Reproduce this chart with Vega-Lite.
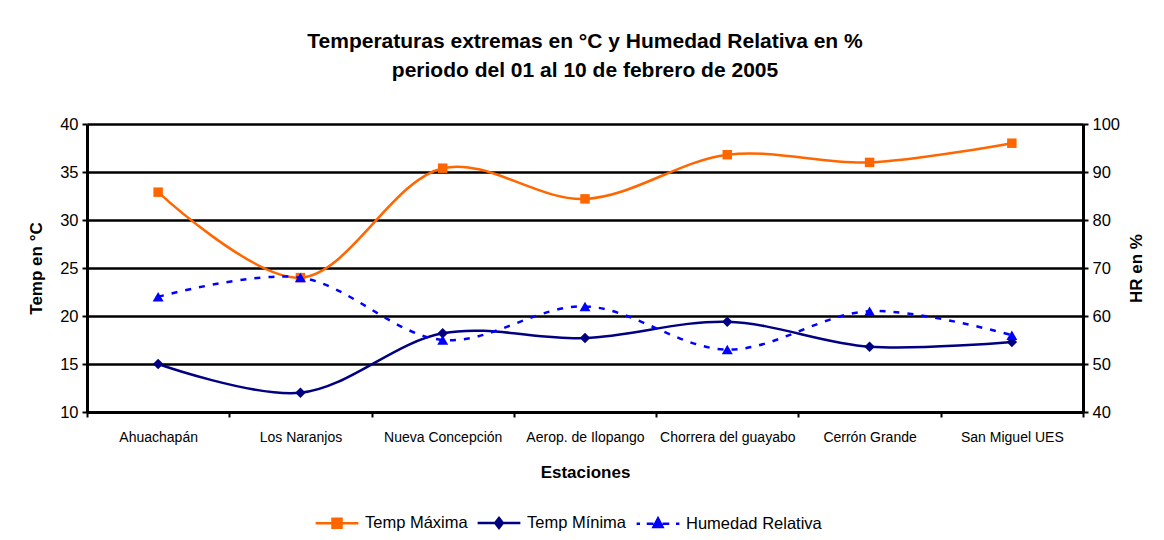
{
  "$schema": "https://vega.github.io/schema/vega-lite/v6.json",
  "autosize": {"type": "none"},
  "padding": {"left": 87, "top": 124, "right": 81, "bottom": 128},
  "width": 996,
  "height": 288,
  "background": "white",
  "title": {
    "text": ["Temperaturas extremas en °C  y Humedad Relativa en %", "periodo del 01 al 10 de febrero de 2005"],
    "font": "Liberation Sans",
    "fontSize": 21,
    "fontWeight": "bold",
    "color": "black",
    "anchor": "middle",
    "lineHeight": 29,
    "offset": 35
  },
  "config": {
    "font": "Liberation Sans",
    "view": {"stroke": null},
    "axis": {
      "labelFont": "Liberation Sans",
      "labelColor": "black",
      "titleColor": "black",
      "titleFont": "Liberation Sans",
      "domainColor": "black",
      "tickColor": "black",
      "gridColor": "black"
    }
  },
  "data": {
    "values": [
      {"estacion": "Ahuachapán", "serie": "Temp Máxima", "valor": 32.9},
      {"estacion": "Los Naranjos", "serie": "Temp Máxima", "valor": 24.0},
      {"estacion": "Nueva Concepción", "serie": "Temp Máxima", "valor": 35.4},
      {"estacion": "Aerop. de Ilopango", "serie": "Temp Máxima", "valor": 32.2},
      {"estacion": "Chorrera del guayabo", "serie": "Temp Máxima", "valor": 36.8},
      {"estacion": "Cerrón Grande", "serie": "Temp Máxima", "valor": 36.0},
      {"estacion": "San Miguel UES", "serie": "Temp Máxima", "valor": 38.0},
      {"estacion": "Ahuachapán", "serie": "Temp Mínima", "valor": 15.0},
      {"estacion": "Los Naranjos", "serie": "Temp Mínima", "valor": 12.0},
      {"estacion": "Nueva Concepción", "serie": "Temp Mínima", "valor": 18.2},
      {"estacion": "Aerop. de Ilopango", "serie": "Temp Mínima", "valor": 17.7},
      {"estacion": "Chorrera del guayabo", "serie": "Temp Mínima", "valor": 19.4},
      {"estacion": "Cerrón Grande", "serie": "Temp Mínima", "valor": 16.8},
      {"estacion": "San Miguel UES", "serie": "Temp Mínima", "valor": 17.3},
      {"estacion": "Ahuachapán", "serie": "Humedad Relativa", "valor": 64},
      {"estacion": "Los Naranjos", "serie": "Humedad Relativa", "valor": 68},
      {"estacion": "Nueva Concepción", "serie": "Humedad Relativa", "valor": 55},
      {"estacion": "Aerop. de Ilopango", "serie": "Humedad Relativa", "valor": 62},
      {"estacion": "Chorrera del guayabo", "serie": "Humedad Relativa", "valor": 53},
      {"estacion": "Cerrón Grande", "serie": "Humedad Relativa", "valor": 61},
      {"estacion": "San Miguel UES", "serie": "Humedad Relativa", "valor": 56}
    ]
  },
  "encoding": {
    "x": {
      "field": "estacion",
      "type": "nominal",
      "sort": null,
      "scale": {"type": "band", "paddingInner": 0, "paddingOuter": 0},
      "axis": {
        "title": "Estaciones",
        "titleFontSize": 17,
        "titleFontWeight": "bold",
        "titlePadding": 20,
        "labelFontSize": 14,
        "labelAngle": 0,
        "labelPadding": 13,
        "tickBand": "extent",
        "tickSize": 5,
        "tickWidth": 2,
        "domainWidth": 3,
        "grid": false
      }
    }
  },
  "layer": [
    {
      "encoding": {
        "y": {
          "field": "valor",
          "type": "quantitative",
          "scale": {"domain": [10, 40], "nice": false, "zero": false},
          "axis": {
            "orient": "left",
            "title": "Temp en °C",
            "titleFontSize": 17,
            "titleFontWeight": "bold",
            "titlePadding": 14,
            "labelFontSize": 16.5,
            "labelPadding": 4,
            "values": [10, 15, 20, 25, 30, 35, 40],
            "grid": true,
            "gridWidth": 2.5,
            "tickSize": 5,
            "tickWidth": 2,
            "domainWidth": 3
          }
        }
      },
      "layer": [
        {
          "transform": [{"filter": "datum.serie != 'Humedad Relativa'"}],
          "mark": {"type": "line", "interpolate": "catmull-rom", "strokeWidth": 2.5},
          "encoding": {
            "color": {
              "field": "serie",
              "type": "nominal",
              "scale": {
                "domain": ["Temp Máxima", "Temp Mínima", "Humedad Relativa"],
                "range": ["#FF6600", "#000080", "#0000FF"]
              },
              "legend": {
                "title": null,
                "orient": "none",
                "legendX": 226,
                "legendY": 375,
                "direction": "horizontal",
                "labelFontSize": 16.5,
                "labelColor": "black",
                "labelFont": "Liberation Sans",
                "symbolSize": 2025,
                "symbolStrokeWidth": 2.5,
                "columnPadding": 4,
                "labelOffset": 4,
                "encode": {
                  "symbols": {
                    "update": {
                      "shape": {"signal": "datum.value === 'Temp Máxima' ? 'M-0.95,0H0.95M-0.2,-0.2H0.2V0.2H-0.2Z' : datum.value === 'Temp Mínima' ? 'M-0.95,0H0.95M0,-0.22L0.17,0L0,0.22L-0.17,0Z' : 'M-0.95,0H-0.8M-0.5,0H-0.2M0.2,0H0.5M0.8,0H0.95M0,-0.24L0.2,0.14H-0.2Z'"},
                      "fill": {"signal": "scale('color', datum.value)"},
                      "stroke": {"signal": "scale('color', datum.value)"},
                      "strokeWidth": {"value": 2.5},
                      "opacity": {"value": 1}
                    }
                  }
                }
              }
            }
          }
        },
        {
          "transform": [{"filter": "datum.serie == 'Temp Máxima'"}],
          "mark": {"type": "point", "shape": "square", "filled": true, "size": 90, "color": "#FF6600", "opacity": 1}
        },
        {
          "transform": [{"filter": "datum.serie == 'Temp Mínima'"}],
          "mark": {"type": "point", "shape": "diamond", "filled": true, "size": 110, "color": "#000080", "opacity": 1}
        }
      ]
    },
    {
      "encoding": {
        "y": {
          "field": "valor",
          "type": "quantitative",
          "scale": {"domain": [40, 100], "nice": false, "zero": false},
          "axis": {
            "orient": "right",
            "title": "HR en %",
            "titleAngle": -90,
            "titleFontSize": 17,
            "titleFontWeight": "bold",
            "titlePadding": 26,
            "labelFontSize": 16.5,
            "labelPadding": 4,
            "values": [40, 50, 60, 70, 80, 90, 100],
            "grid": false,
            "tickSize": 5,
            "tickWidth": 2,
            "domainWidth": 3
          }
        }
      },
      "layer": [
        {
          "transform": [{"filter": "datum.serie == 'Humedad Relativa'"}],
          "mark": {"type": "line", "interpolate": "catmull-rom", "strokeWidth": 2.5, "strokeDash": [6, 8]},
          "encoding": {
            "color": {"field": "serie", "type": "nominal"}
          }
        },
        {
          "transform": [{"filter": "datum.serie == 'Humedad Relativa'"}],
          "mark": {"type": "point", "shape": "triangle-up", "filled": true, "size": 120, "color": "#0000FF", "opacity": 1}
        }
      ]
    }
  ],
  "resolve": {"scale": {"y": "independent"}}
}
